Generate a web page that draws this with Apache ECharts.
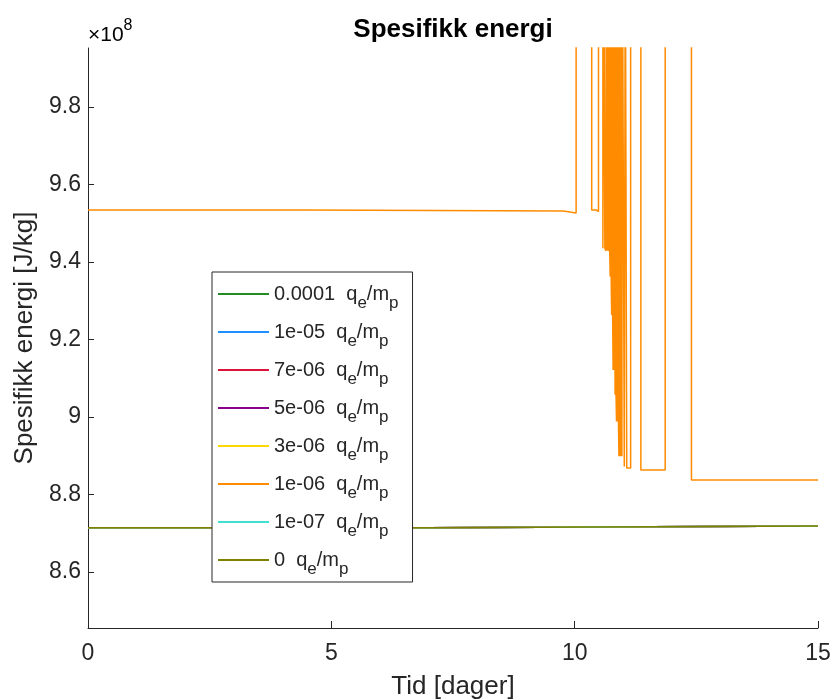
<!DOCTYPE html>
<html>
<head>
<meta charset="utf-8">
<script src="https://cdn.jsdelivr.net/npm/echarts@6/dist/echarts.min.js"></script>
<style>html,body{margin:0;padding:0;background:#fff;}#c{width:830px;height:700px;}</style>
</head>
<body>
<div id="c"></div>
<script>
// values in units of 1e8 J/kg, time in days
const seriesNames = ['0.0001', '1e-05', '7e-06', '5e-06', '3e-06', '1e-06', '1e-07', '0'];
const seriesColors = ['#228b22', '#1e90ff', '#dc143c', '#8b008b', '#ffd700', '#ff8c00', '#40e0d0', '#808000'];

const tFlat = [0, 6.99, 15];
const eQ1e4 = [8.714, 8.718, 8.718];
const eQ1e5 = [8.714, 8.718, 8.718];
const eQ7e6 = [8.714, 8.718, 8.718];
const eQ5e6 = [8.714, 8.718, 8.718];
const eQ3e6 = [8.714, 8.718, 8.718];
const eQ1e7 = [8.714, 8.718, 8.718];
const eQ0   = [8.714, 8.718, 8.718];

// 1e-06 series (10.3 = far above the visible range, clipped)
const tQ1e6 = [0, 4.45, 9.77, 10.03, 10.35, 10.44, 10.49, 10.58, 10.60, 10.62, 10.64, 10.65,
  10.66, 10.67, 10.68, 10.69, 10.70, 10.71, 10.72, 10.73, 10.74, 10.75, 10.76, 10.77, 10.78,
  10.79, 10.80, 10.81, 10.82, 10.83, 10.84, 10.85, 10.86, 10.87, 10.88, 10.89, 10.90, 10.91,
  10.92, 10.93, 10.94, 10.95, 10.96, 10.97, 10.98, 11.02, 11.04, 11.07, 11.15, 11.36, 11.86,
  12.40, 15];
const eQ1e6 = [9.534, 9.531, 9.526, 10.3, 9.534, 9.530, 10.3, 9.435, 10.3, 9.435, 9.429, 10.3,
  9.429, 10.3, 9.429, 10.3, 9.428, 10.3, 9.427, 9.362, 10.3, 9.362, 9.263, 10.3, 9.263,
  9.121, 10.3, 9.121, 10.3, 9.057, 10.3, 9.057, 8.988, 10.3, 8.988, 10.3, 8.988, 8.898,
  10.3, 8.898, 10.3, 8.898, 10.3, 8.898, 10.3, 8.872, 10.3, 8.868, 10.3, 8.863, 10.3,
  8.837, 8.837];

const xTicks = [0, 5, 10, 15];
const yTicks = [8.6, 8.8, 9.0, 9.2, 9.4, 9.6, 9.8];

const seriesT = [tFlat, tFlat, tFlat, tFlat, tFlat, tQ1e6, tFlat, tFlat];
const seriesE = [eQ1e4, eQ1e5, eQ7e6, eQ5e6, eQ3e6, eQ1e6, eQ1e7, eQ0];

// zero-order hold (stairs) built from the sampled values
function stairs(ts, es) {
  const out = [[ts[0], es[0]]];
  for (let i = 1; i < ts.length; i++) {
    out.push([ts[i], es[i - 1]]);
    out.push([ts[i], es[i]]);
  }
  return out;
}

const FONT = 'Liberation Sans, Arial, Helvetica, sans-serif';
const AX = '#262626';

const chart = echarts.init(document.getElementById('c'), null, {renderer: 'canvas'});
chart.setOption({
  animation: false,
  backgroundColor: '#fff',
  title: {
    text: 'Spesifikk energi',
    left: 453, top: 17, textAlign: 'center', padding: 0,
    textStyle: {fontFamily: FONT, fontSize: 26, fontWeight: 'bold', color: '#000'}
  },
  grid: {left: 88, right: 12, top: 48, bottom: 72, containLabel: false, outerBoundsMode: 'none'},
  xAxis: {
    type: 'value', min: 0, max: 15, interval: 5,
    name: 'Tid [dager]', nameLocation: 'middle', nameGap: 46,
    nameTextStyle: {fontFamily: FONT, fontSize: 26, color: AX},
    axisLine: {show: true, onZero: false, lineStyle: {color: AX, width: 1}},
    axisTick: {show: true, inside: true, length: 7, lineStyle: {color: AX}, customValues: xTicks},
    axisLabel: {fontFamily: FONT, fontSize: 23, color: AX, margin: 14, customValues: xTicks},
    splitLine: {show: false}
  },
  yAxis: {
    type: 'value', min: 8.455, max: 9.952,
    name: 'Spesifikk energi [J/kg]', nameLocation: 'middle', nameGap: 42,
    nameTextStyle: {fontFamily: FONT, fontSize: 26, color: AX},
    axisLine: {show: true, onZero: false, lineStyle: {color: AX, width: 1}},
    axisTick: {show: true, inside: true, length: 6, lineStyle: {color: AX}, customValues: yTicks},
    axisLabel: {fontFamily: FONT, fontSize: 23, color: AX, margin: 7, customValues: yTicks,
      formatter: v => String(+(+v).toFixed(1))},
    splitLine: {show: false}
  },
  legend: {
    orient: 'vertical', left: 212, top: 272,
    padding: [4, 14, 4, 6], itemGap: 2,
    itemWidth: 51, itemHeight: 2, icon: 'rect',
    backgroundColor: '#fff', borderColor: AX, borderWidth: 1, borderRadius: 0,
    data: seriesNames,
    formatter: n => n + '  q{sub|e}/m{sub|p}',
    textStyle: {
      fontFamily: FONT, fontSize: 20, color: AX, lineHeight: 36,
      rich: {sub: {fontFamily: FONT, fontSize: 17, color: AX, lineHeight: 14, verticalAlign: 'bottom'}}
    }
  },
  graphic: [{
    type: 'text', left: 88, top: 18,
    style: {
      text: '{x|×}{n|10}{sup|8}',
      rich: {
        x: {fontFamily: FONT, fontSize: 21, color: '#666', lineHeight: 34},
        n: {fontFamily: FONT, fontSize: 21, color: AX, lineHeight: 34},
        sup: {fontFamily: FONT, fontSize: 16, color: AX, lineHeight: 16, verticalAlign: 'top'}
      }
    }
  }],
  series: seriesNames.map((name, i) => ({
    name, type: 'line', symbol: 'none', showSymbol: false, clip: true,
    color: seriesColors[i],
    lineStyle: {color: seriesColors[i], width: 1.5},
    data: stairs(seriesT[i], seriesE[i])
  }))
});
</script>
</body>
</html>
